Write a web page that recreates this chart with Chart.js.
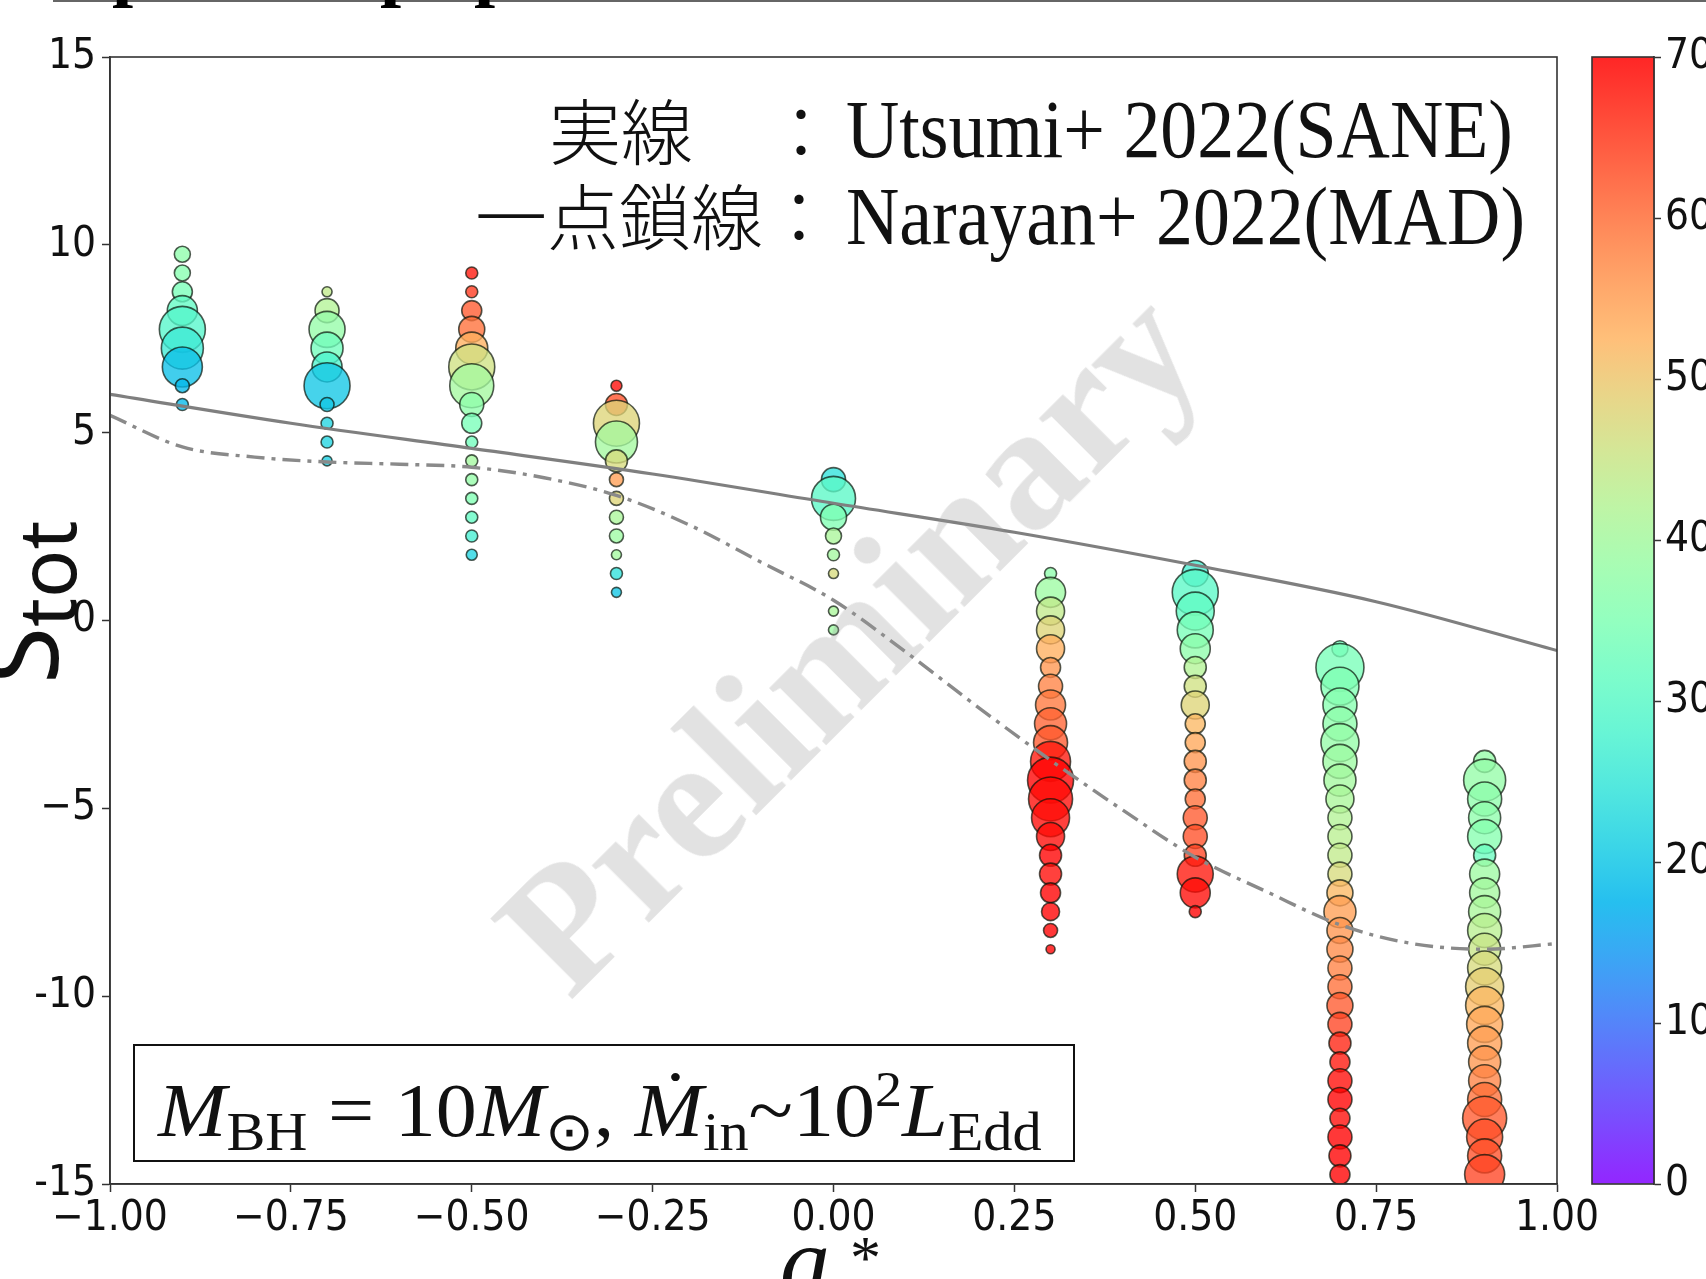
<!DOCTYPE html>
<html>
<head>
<meta charset="utf-8">
<script src="https://cdn.jsdelivr.net/npm/chart.js"></script>
<style>
  html, body { margin: 0; padding: 0; background: #fff; overflow: hidden; }
  #wrap { position: relative; width: 1706px; height: 1279px; overflow: hidden; background: #fff; }
  canvas { position: absolute; top: 0; }
  #main { left: 0; }
  #cbar { left: 1540px; }
  .ov { position: absolute; white-space: nowrap; line-height: 1; }
  .cjk { font-family: "Noto Sans CJK JP", sans-serif; font-weight: 300; font-size: 72px; color: #111; }
  .lat { font-family: "Liberation Serif", serif; font-size: 82px; color: #111; transform: scaleX(0.9); transform-origin: 0 0; }
  #mbox { left: 133px; top: 1044px; width: 938px; height: 114px; border: 2px solid #111; }
  #formula { position: absolute; left: 23px; top: 18px; font-family: "Liberation Serif", serif; font-size: 76px; color: #111; transform: scaleX(1.08); transform-origin: 0 0; }
  #formula sub { font-size: 54px; vertical-align: -14px; font-style: normal; }
  #formula sup { font-size: 50px; vertical-align: 30px; }
  #wm { left: 848px; top: 640px; font-family: "Liberation Serif", serif; font-weight: bold; font-size: 176px; color: rgba(150,150,150,0.28); transform: translate(-50%, -50%) rotate(-45deg); }
  #ylab { left: -34px; top: 684px; transform-origin: 0 0; transform: rotate(-90deg); font-family: "Noto Sans", sans-serif; font-size: 104px; color: #111; }
  #ylab span { font-size: 80px; vertical-align: -18px; }
  #xlab { left: 780px; top: 1212px; font-family: "Liberation Serif", serif; font-style: italic; font-size: 100px; color: #111; }
  #xstar { left: 850px; top: 1226px; font-family: "Liberation Serif", serif; font-size: 62px; color: #111; }
  #topline { position: absolute; left: 53px; top: 0; width: 1653px; height: 2px; background: #666; }
  .topglyph { top: -72px; font-family: "Liberation Serif", serif; font-weight: bold; font-size: 76px; color: #000; }
</style>
</head>
<body>
<div id="wrap">
  <canvas id="main" width="1706" height="1279"></canvas>
  <canvas id="cbar" width="166" height="1279"></canvas>

  <div id="topline"></div>
  <div class="ov topglyph" style="left:112px">p</div>
  <div class="ov topglyph" style="left:380px">p</div>
  <div class="ov topglyph" style="left:474px">p</div>

  <div class="ov" id="wm">Preliminary</div>

  <div class="ov cjk" style="left:549px; top:92px">実線　：</div>
  <div class="ov lat" style="left:846px; top:89px">Utsumi+ 2022(SANE)</div>
  <div class="ov cjk" style="left:475px; top:177px">一点鎖線：</div>
  <div class="ov lat" style="left:846px; top:176px">Narayan+ 2022(MAD)</div>

  <div class="ov" id="mbox">
    <div id="formula"><i>M</i><sub>BH</sub> = 10<i>M</i><sub>⊙</sub>, <i>M&#775;</i><sub>in</sub>~10<sup>2</sup><i>L</i><sub>Edd</sub></div>
  </div>

  <div class="ov" id="ylab">S<span>tot</span></div>
  <div class="ov" id="xlab">a</div>
  <div class="ov" id="xstar">*</div>
</div>

<script>
// --- data ---
const spinCols = [-0.9, -0.7, -0.5, -0.3, 0.0, 0.3, 0.5, 0.7, 0.9];

const stotVals = [
  [9.75, 9.25, 8.75, 8.25, 7.75, 7.25, 6.75, 6.25, 5.75],
  [8.75, 8.25, 7.75, 7.25, 6.75, 6.25, 5.75, 5.25, 4.75, 4.25],
  [9.25, 8.75, 8.25, 7.75, 7.25, 6.75, 6.25, 5.75, 5.25, 4.75, 4.25, 3.75, 3.25, 2.75, 2.25, 1.75],
  [6.25, 5.75, 5.25, 4.75, 4.25, 3.75, 3.25, 2.75, 2.25, 1.75, 1.25, 0.75],
  [3.75, 3.25, 2.75, 2.25, 1.75, 1.25, 0.25, -0.25],
  [1.25, 0.75, 0.25, -0.25, -0.75, -1.25, -1.75, -2.25, -2.75, -3.25, -3.75, -4.25, -4.75, -5.25, -5.75, -6.25, -6.75, -7.25, -7.75, -8.25, -8.75],
  [1.25, 0.75, 0.25, -0.25, -0.75, -1.25, -1.75, -2.25, -2.75, -3.25, -3.75, -4.25, -4.75, -5.25, -5.75, -6.25, -6.75, -7.25, -7.75],
  [-0.75, -1.25, -1.75, -2.25, -2.75, -3.25, -3.75, -4.25, -4.75, -5.25, -5.75, -6.25, -6.75, -7.25, -7.75, -8.25, -8.75, -9.25, -9.75, -10.25, -10.75, -11.25, -11.75, -12.25, -12.75, -13.25, -13.75, -14.25, -14.75],
  [-3.75, -4.25, -4.75, -5.25, -5.75, -6.25, -6.75, -7.25, -7.75, -8.25, -8.75, -9.25, -9.75, -10.25, -10.75, -11.25, -11.75, -12.25, -12.75, -13.25, -13.75, -14.25, -14.75]
];

// marker size of each point
const sizeVals = [
  [8, 8, 10, 15, 23, 21, 20, 7, 6],
  [5, 12, 18, 16, 15, 23, 7, 6, 6, 5],
  [6, 6, 10, 13, 16, 23, 22, 12, 10, 6, 6, 6, 6, 6, 6, 5.5],
  [5.5, 11, 23, 21, 11, 7, 7, 7, 7, 5, 6, 5],
  [12, 22, 13, 8, 6, 5, 5, 5],
  [6, 15, 14, 14, 14, 10, 12, 15, 16, 17, 20, 23, 22, 19, 14, 11, 11, 10, 9, 7, 4.5],
  [13, 23, 19, 18, 15, 11, 11, 14, 10, 10, 11, 11, 10, 12, 12, 11, 18, 15, 6],
  [8, 24, 19, 17, 17, 19, 17, 16, 14, 12, 12, 12, 12, 13, 16, 13, 13, 12, 12, 13, 12, 11, 10, 12, 12, 10, 12, 11, 10],
  [11, 21, 17, 16, 17, 11, 15, 15, 16, 17, 16, 17, 19, 19, 18, 17, 16, 16, 17, 22, 18, 17, 20]
];

// colour-bar quantity (0-70)
const colourVals = [
  [37, 36, 34, 31, 29, 26, 19, 18, 18],
  [44, 42, 38, 33, 28, 20, 20, 22, 22, 21],
  [68, 65, 62, 60, 53, 46, 40, 37, 34, 33, 40, 38, 35, 31, 27, 22],
  [69, 63, 48, 40, 47, 55, 48, 41, 39, 40, 24, 20],
  [24, 30, 35, 41, 40, 47, 41, 39],
  [37, 39, 44, 48, 53, 56, 58, 59, 61, 62, 68, 70, 69, 69, 69, 70, 69, 70, 70, 70, 70],
  [27, 30, 31, 34, 37, 42, 46, 48, 52, 54, 56, 58, 60, 62, 63, 64, 68, 69, 70],
  [33, 34, 35, 36, 37, 38, 39, 40, 41, 42, 43, 44, 47, 52, 55, 56, 57, 58, 60, 62, 64, 67, 68, 69, 70, 69, 70, 70, 70],
  [38, 38, 37, 37, 36, 32, 39, 40, 41, 43, 45, 47, 49, 52, 54, 55, 56, 58, 60, 62, 63, 63, 64]
];

// Utsumi+ 2022 (SANE), solid line
const saneX = [-1, -0.75, -0.5, -0.25, 0, 0.25, 0.5, 0.75, 1];
const saneY = [6.02, 5.25, 4.58, 3.9, 3.12, 2.35, 1.47, 0.5, -0.8];

// Narayan+ 2022 (MAD), dash-dot line
const madX = [-1, -0.9, -0.8, -0.7, -0.6, -0.5, -0.4, -0.3, -0.2, -0.1, 0, 0.1, 0.2, 0.3, 0.4, 0.5, 0.6, 0.7, 0.8, 0.9, 1];
const madY = [5.46, 4.62, 4.35, 4.22, 4.16, 4.08, 3.8, 3.33, 2.55, 1.55, 0.54, -0.84, -2.31, -3.72, -5.05, -6.3, -7.23, -8.1, -8.6, -8.75, -8.6];

const xTickVals = [-1, -0.75, -0.5, -0.25, 0, 0.25, 0.5, 0.75, 1];
const yTickVals = [15, 10, 5, 0, -5, -10, -15];
const yTickLabels = ['15', '10', '5', '0', '\u22125', '-10', '-15'];
const cbarTicks = [0, 10, 20, 30, 40, 50, 60, 70];

const CMIN = 0, CMAX = 70;
const TICK_FONT = { family: "'DejaVu Sans Condensed', 'DejaVu Sans', sans-serif", size: 42 };
const AXIS_COL = '#333';

// matplotlib "rainbow" colormap
function rainbow(v, a) {
  const t = Math.min(1, Math.max(0, (v - CMIN) / (CMAX - CMIN)));
  const c = x => Math.round(255 * Math.min(1, Math.max(0, x)));
  const r = c(Math.abs(2 * t - 0.5));
  const g = c(Math.sin(Math.PI * t));
  const b = c(Math.cos(Math.PI * t / 2));
  return `rgba(${r},${g},${b},${a})`;
}

// draw the full box round the plot area (matplotlib spines)
const framePlugin = {
  id: 'frame',
  afterDatasetsDraw(chart) {
    const { ctx, chartArea: a } = chart;
    ctx.save();
    ctx.strokeStyle = AXIS_COL;
    ctx.lineWidth = 1.6;
    ctx.strokeRect(a.left, a.top, a.right - a.left, a.bottom - a.top);
    ctx.restore();
  }
};

const bubbleSets = spinCols.map((sx, k) => ({
  type: 'bubble',
  order: 1,
  clip: 0,
  data: stotVals[k].map((y, i) => ({ x: sx, y: y, r: sizeVals[k][i] })),
  backgroundColor: colourVals[k].map(v => rainbow(v, 0.78)),
  borderColor: 'rgba(10,20,10,0.7)',
  borderWidth: 1.6
}));

const lineSets = [
  {
    type: 'line', order: 0,
    data: saneX.map((x, i) => ({ x: x, y: saneY[i] })),
    borderColor: '#7f7f7f', borderWidth: 3.2, pointRadius: 0,
    cubicInterpolationMode: 'monotone', fill: false
  },
  {
    type: 'line', order: 0,
    data: madX.map((x, i) => ({ x: x, y: madY[i] })),
    borderColor: '#8a8a8a', borderWidth: 3.4, pointRadius: 0,
    borderDash: [18, 7, 4, 7],
    cubicInterpolationMode: 'monotone', fill: false
  }
];

new Chart(document.getElementById('main'), {
  type: 'bubble',
  data: { datasets: [...lineSets, ...bubbleSets] },
  options: {
    responsive: false,
    animation: false,
    events: [],
    layout: { padding: { left: 30, right: 149, top: 57, bottom: 0 } },
    plugins: { legend: { display: false }, tooltip: { enabled: false } },
    scales: {
      x: {
        type: 'linear', min: -1, max: 1,
        afterBuildTicks: s => { s.ticks = xTickVals.map(v => ({ value: v })); },
        afterFit: s => { s.height = 95; },
        ticks: {
          font: TICK_FONT, color: '#111', padding: 2, maxRotation: 0, autoSkip: false,
          callback: v => (v < 0 ? '\u2212' : '') + Math.abs(v).toFixed(2)
        },
        grid: { drawOnChartArea: false, tickLength: 8, tickColor: AXIS_COL, tickWidth: 1.5 },
        border: { color: AXIS_COL, width: 1.6 }
      },
      y: {
        type: 'linear', min: -15, max: 15,
        afterBuildTicks: s => { s.ticks = yTickVals.map(v => ({ value: v })); },
        afterFit: s => { s.width = 80; },
        ticks: {
          font: TICK_FONT, color: '#111', padding: 6, autoSkip: false,
          callback: v => yTickLabels[yTickVals.indexOf(v)]
        },
        grid: { drawOnChartArea: false, tickLength: 8, tickColor: AXIS_COL, tickWidth: 1.5 },
        border: { color: AXIS_COL, width: 1.6 }
      }
    }
  },
  plugins: [framePlugin]
});

// colour bar: one floating bar spanning the whole range, filled with the colormap
new Chart(document.getElementById('cbar'), {
  type: 'bar',
  data: {
    labels: [''],
    datasets: [{
      data: [[CMIN, CMAX]],
      barPercentage: 1, categoryPercentage: 1, borderWidth: 0,
      backgroundColor: ctx => {
        const a = ctx.chart.chartArea;
        if (!a) return null;
        const g = ctx.chart.ctx.createLinearGradient(0, a.bottom, 0, a.top);
        for (let i = 0; i <= 20; i++) g.addColorStop(i / 20, rainbow(CMIN + (CMAX - CMIN) * i / 20, 0.85));
        return g;
      }
    }]
  },
  options: {
    responsive: false,
    animation: false,
    events: [],
    layout: { padding: { left: 52, right: 0, top: 57, bottom: 95 } },
    plugins: { legend: { display: false }, tooltip: { enabled: false } },
    scales: {
      x: { display: false },
      y: {
        position: 'right', min: CMIN, max: CMAX,
        afterBuildTicks: s => { s.ticks = cbarTicks.map(v => ({ value: v })); },
        afterFit: s => { s.width = 52; },
        ticks: { font: TICK_FONT, color: '#111', padding: 4 },
        grid: { drawOnChartArea: false, tickLength: 7, tickColor: AXIS_COL, tickWidth: 1.5 },
        border: { color: AXIS_COL, width: 1.6 }
      }
    }
  },
  plugins: [framePlugin]
});
</script>
</body>
</html>
